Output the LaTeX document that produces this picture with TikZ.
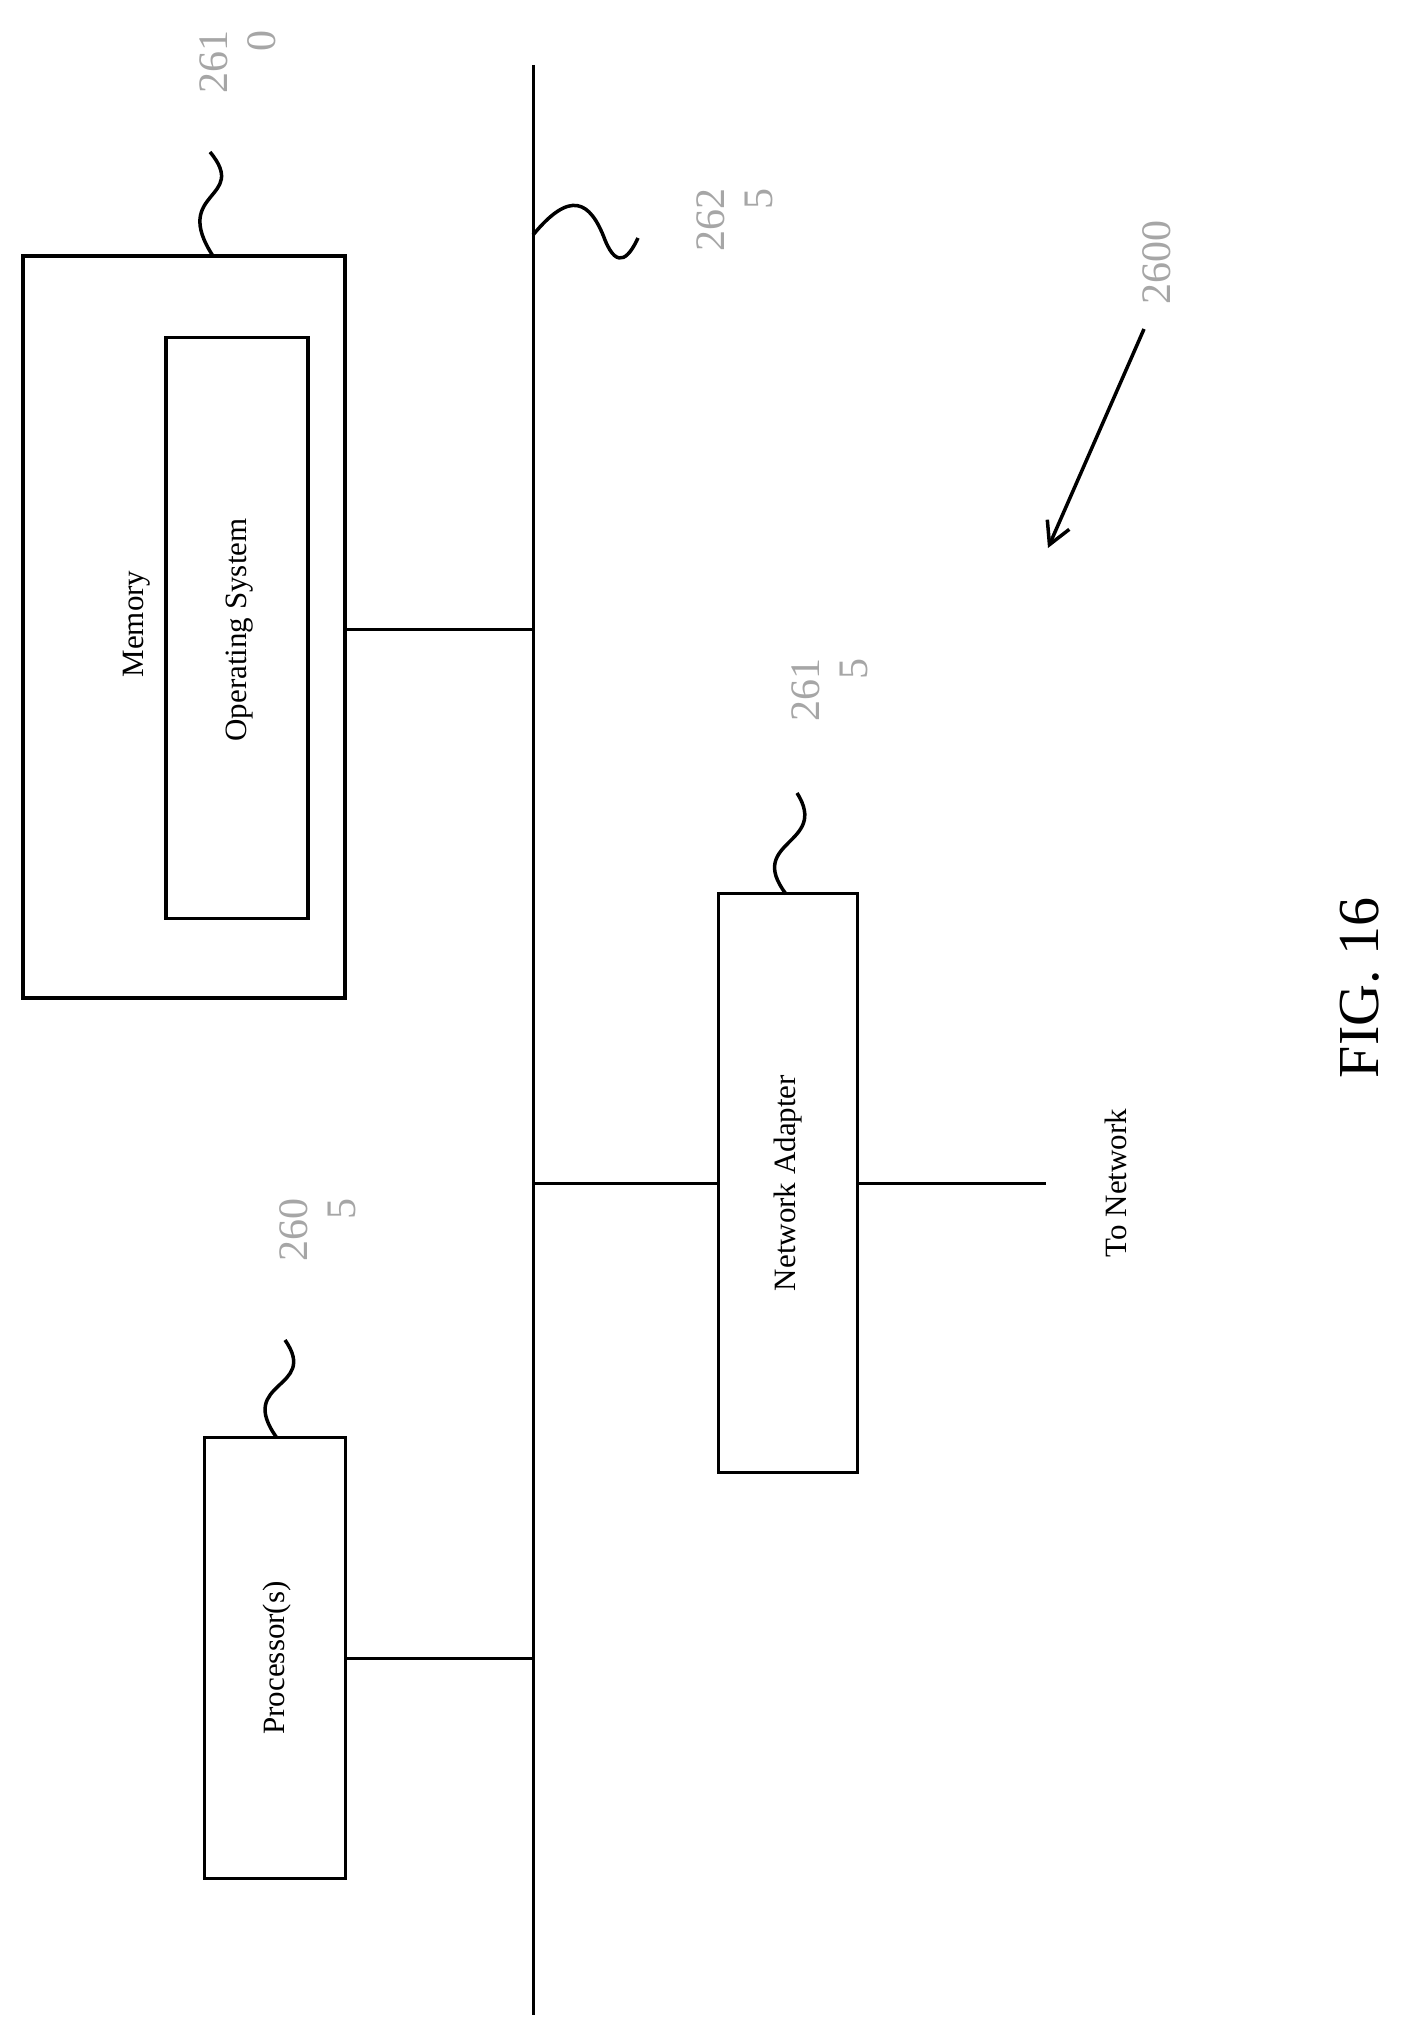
\documentclass[tikz,border=0pt]{standalone}
\usepackage{fontspec}
\setmainfont{Liberation Serif}
\usetikzlibrary{arrows.meta}
\begin{document}
\begin{tikzpicture}[x=1pt,y=-1pt,
  box/.style={draw,line width=3.5pt,rectangle},
  ln/.style={line width=3pt},
  sq/.style={line width=3.5pt},
  txt/.style={rotate=90,font=\fontsize{31}{35}\selectfont},
  num/.style={rotate=90,text=gray!70,align=right,font=\fontsize{42}{48}\selectfont}]
\useasboundingbox (0,0) rectangle (1405,2031);
% bus
\coordinate (bt) at (533,65); \coordinate (bb) at (533,2015);
\draw[ln] (bt) -- (bb);
% boxes
\node[box,minimum width=322pt,minimum height=742pt] (mem) at (184,627) {};
\node[box,minimum width=142pt,minimum height=581pt] (os) at (237,628) {};
\node[txt] at (137,624) {Memory};
\node[txt] at (240,630) {Operating System};
\node[box,minimum width=139pt,minimum height=579pt] (na) at (788,1183) {};
\node[txt] at (788,1183) {Network Adapter};
\node[box,minimum width=141pt,minimum height=441pt] (pr) at (275,1658) {};
\node[txt] at (277,1658) {Processor(s)};
% connectors
\coordinate (b1) at (533,629); \coordinate (b2) at (533,1183); \coordinate (b3) at (533,1658);
\draw[ln] (mem.east |- b1) -- (b1);
\draw[ln] (b2) -- (na.west |- b2);
\coordinate (tn) at (1046,1183);
\draw[ln] (na.east |- b2) -- (tn);
\draw[ln] (pr.east |- b3) -- (b3);
\node[txt] at (1116,1183) {To Network};
% squiggles
\coordinate (m0) at (213,256); \coordinate (m1) at (210,152);
\draw[sq] (m0) .. controls (170,190) and (250,200) .. (m1);
\coordinate (s0) at (533,235); \coordinate (s1) at (638,238);
\draw[sq] (s0) .. controls (570,190) and (590,200) .. (605,240) .. controls (618,272) and (630,255) .. (s1);
\coordinate (p0) at (277,1438); \coordinate (p1) at (285,1340);
\draw[sq] (p0) .. controls (235,1380) and (320,1390) .. (p1);
\coordinate (n0) at (786,894); \coordinate (n1) at (797,793);
\draw[sq] (n0) .. controls (745,840) and (830,845) .. (n1);
% labels
\node[num] at (238,62) {261\\0};
\node[num] at (735,220) {262\\5};
\node[num] at (318,1230) {260\\5};
\node[num] at (830,690) {261\\5};
\node[num] at (1157,262) {2600};
\coordinate (a0) at (1144,329); \coordinate (a1) at (1048,548);
\draw[line width=3.5pt,-{Straight Barb[length=22pt,width=24pt]}] (a0) -- (a1);
\node[rotate=90,font=\fontsize{58}{64}\selectfont] at (1360,988) {FIG. 16};
\end{tikzpicture}
\end{document}
